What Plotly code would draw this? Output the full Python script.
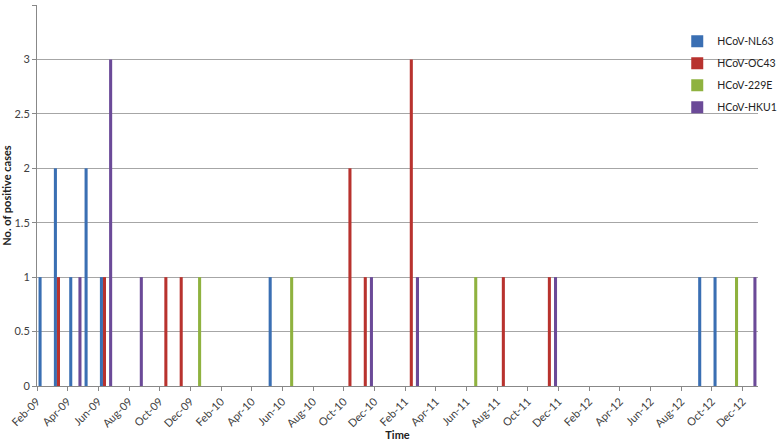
from plotly import graph_objects as go

# monthly categories Feb-09 .. Dec-12
MONTHS = ['Feb-09', 'Mar-09', 'Apr-09', 'May-09', 'Jun-09', 'Jul-09', 'Aug-09', 'Sep-09', 'Oct-09', 'Nov-09', 'Dec-09',
          'Jan-10', 'Feb-10', 'Mar-10', 'Apr-10', 'May-10', 'Jun-10', 'Jul-10', 'Aug-10', 'Sep-10', 'Oct-10', 'Nov-10', 'Dec-10',
          'Jan-11', 'Feb-11', 'Mar-11', 'Apr-11', 'May-11', 'Jun-11', 'Jul-11', 'Aug-11', 'Sep-11', 'Oct-11', 'Nov-11', 'Dec-11',
          'Jan-12', 'Feb-12', 'Mar-12', 'Apr-12', 'May-12', 'Jun-12', 'Jul-12', 'Aug-12', 'Sep-12', 'Oct-12', 'Nov-12', 'Dec-12']

NL63 = [1, 2, 1, 2, 1, 0, 0, 0, 0, 0, 0,
        0, 0, 0, 0, 1, 0, 0, 0, 0, 0, 0, 0,
        0, 0, 0, 0, 0, 0, 0, 0, 0, 0, 0, 0,
        0, 0, 0, 0, 0, 0, 0, 0, 1, 1, 0, 0]
OC43 = [0, 1, 0, 0, 1, 0, 0, 0, 1, 1, 0,
        0, 0, 0, 0, 0, 0, 0, 0, 0, 2, 1, 0,
        0, 3, 0, 0, 0, 0, 0, 1, 0, 0, 1, 0,
        0, 0, 0, 0, 0, 0, 0, 0, 0, 0, 0, 0]
E229 = [0, 0, 0, 0, 0, 0, 0, 0, 0, 0, 1,
        0, 0, 0, 0, 0, 1, 0, 0, 0, 0, 0, 0,
        0, 0, 0, 0, 0, 1, 0, 0, 0, 0, 0, 0,
        0, 0, 0, 0, 0, 0, 0, 0, 0, 0, 1, 0]
HKU1 = [0, 0, 1, 0, 3, 0, 1, 0, 0, 0, 0,
        0, 0, 0, 0, 0, 0, 0, 0, 0, 0, 1, 0,
        0, 1, 0, 0, 0, 0, 0, 0, 0, 0, 1, 0,
        0, 0, 0, 0, 0, 0, 0, 0, 0, 0, 0, 1]

SERIES = [('HCoV-NL63', NL63, '#3a6fb3'),
          ('HCoV-OC43', OC43, '#b8322e'),
          ('HCoV-229E', E229, '#8fb23f'),
          ('HCoV-HKU1', HKU1, '#6b4a98')]

x_idx = list(range(len(MONTHS)))
tick_pos = [i - 0.5 for i in x_idx[::2]]
tick_txt = MONTHS[::2]

fig = go.Figure()
for name, vals, col in SERIES:
    fig.add_trace(go.Bar(name=name, x=x_idx, y=vals, marker_color=col,
                         marker_line_width=0, legendgroup=name))

fig.update_layout(
    width=778, height=441,
    margin=dict(l=37, r=20, t=5, b=55, autoexpand=False),
    barmode='group', bargap=0.2, bargroupgap=0,
    plot_bgcolor='white', paper_bgcolor='white',
    font=dict(family='Lato, Open Sans, sans-serif', size=11, color='#404040'),
    legend=dict(x=0.888, y=0.943, xanchor='left', yanchor='top',
                bgcolor='rgba(0,0,0,0)', font=dict(size=10.5, color='#222'),
                traceorder='grouped', tracegroupgap=3, itemwidth=30),
    showlegend=True,
)
fig.update_xaxes(range=[-0.5, len(MONTHS) - 0.5], tickmode='array',
                 tickvals=tick_pos, ticktext=tick_txt, tickangle=-45,
                 ticks='outside', ticklen=4, tickcolor='#888',
                 showline=True, linecolor='#888', linewidth=1,
                 showgrid=False, zeroline=False,
                 title=dict(text='<b>Time</b>', standoff=1, font=dict(size=11, color='#222')))
fig.update_yaxes(range=[0, 3.5], dtick=0.5, ticks='outside', ticklen=4,
                 tickcolor='#888', showline=True, linecolor='#888',
                 gridcolor='#a6a6a6', gridwidth=1, zeroline=False,
                 title=dict(text='<b>No. of positive cases</b>', standoff=1,
                            font=dict(size=11, color='#222')))

# drop the default body margin so the figure sits at the page corner
fig.write_html("out.html", config={'displayModeBar': False},
               post_script="document.body.style.margin='0';")
